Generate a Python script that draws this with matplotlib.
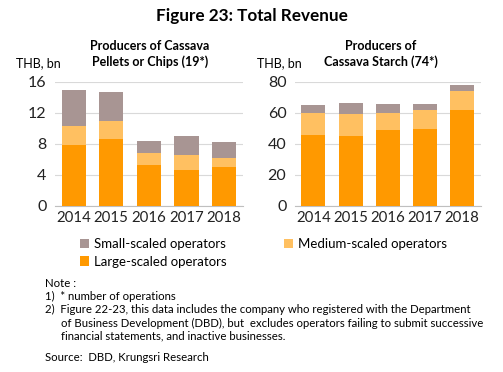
import matplotlib
matplotlib.use("Agg")
import matplotlib.pyplot as plt
import numpy as np

plt.rcParams['font.family'] = ['Lato', 'DejaVu Sans']

years = ['2014', '2015', '2016', '2017', '2018']

# Producers of Cassava Pellets or Chips (THB bn)
chips_large = [7.83, 8.65, 5.25, 4.60, 5.03]
chips_medium = [2.45, 2.32, 1.55, 1.94, 1.16]
chips_small = [4.64, 3.70, 1.54, 2.45, 2.03]

# Producers of Cassava Starch (THB bn)
starch_large = [45.6, 44.9, 48.8, 49.5, 61.7]
starch_medium = [14.2, 14.2, 11.0, 12.2, 12.3]
starch_small = [5.1, 7.4, 5.8, 3.9, 4.1]

c_large = '#FF9900'
c_medium = '#FFC061'
c_small = '#A89593'
grid_c = '#D9D9D9'


def draw(ax, large, medium, small, ymax, step):
    x = np.arange(len(years))
    large = np.array(large)
    medium = np.array(medium)
    small = np.array(small)
    ax.bar(x, large, 0.64, color=c_large, zorder=3, label='Large-scaled operators')
    ax.bar(x, medium, 0.64, bottom=large, color=c_medium, zorder=3, label='Medium-scaled operators')
    ax.bar(x, small, 0.64, bottom=large + medium, color=c_small, zorder=3, label='Small-scaled operators')
    ax.set_xlim(-0.5, len(years) - 0.5)
    ax.set_ylim(0, ymax)
    ax.set_yticks(np.arange(0, ymax + 1, step))
    ax.set_xticks(x)
    ax.set_xticklabels(years)
    ax.yaxis.grid(True, color=grid_c, linewidth=0.8, zorder=0)
    for s in ['top', 'right', 'left']:
        ax.spines[s].set_visible(False)
    ax.spines['bottom'].set_color('#BFBFBF')
    ax.tick_params(axis='y', length=0, labelsize=11.5, pad=6, colors='#222222')
    ax.tick_params(axis='x', length=0, labelsize=10.8, pad=4, colors='#222222')


fig = plt.figure(figsize=(5.03, 3.72), dpi=100)
ax1 = fig.add_axes([0.109, 0.447, 0.374, 0.333])
ax2 = fig.add_axes([0.586, 0.447, 0.370, 0.333])

draw(ax1, chips_large, chips_medium, chips_small, 16, 4)
draw(ax2, starch_large, starch_medium, starch_small, 80, 20)

fig.text(0.5, 0.958, 'Figure 23: Total Revenue', ha='center', va='center',
         fontsize=12.3, fontweight='bold')
fig.text(0.298, 0.855, 'Producers of Cassava\nPellets or Chips (19*)', ha='center', va='center',
         fontsize=9, fontweight='bold', linespacing=1.3)
fig.text(0.757, 0.855, 'Producers of\nCassava Starch (74*)', ha='center', va='center',
         fontsize=9, fontweight='bold', linespacing=1.3)
fig.text(0.032, 0.83, 'THB, bn', ha='left', va='center', fontsize=9)
fig.text(0.511, 0.83, 'THB, bn', ha='left', va='center', fontsize=9)

h, l = ax1.get_legend_handles_labels()
fig.legend([h[2], h[0], h[1]], [l[2], l[0], l[1]], ncol=2, loc='upper left',
           bbox_to_anchor=(0.148, 0.375), frameon=False, fontsize=9.5,
           handlelength=0.7, handleheight=0.7, handletextpad=0.4,
           columnspacing=4.3, labelspacing=0.45, borderaxespad=0)

note_fs = 8.2
fig.text(0.089, 0.239, 'Note :', fontsize=note_fs, va='center')
fig.text(0.089, 0.202, '1)  * number of operations', fontsize=note_fs, va='center')
fig.text(0.089, 0.167, '2)  Figure 22-23, this data includes the company who registered with the Department',
         fontsize=note_fs, va='center')
fig.text(0.121, 0.131, 'of Business Development (DBD), but  excludes operators failing to submit successive',
         fontsize=note_fs, va='center')
fig.text(0.121, 0.096, 'financial statements, and inactive businesses.', fontsize=note_fs, va='center')
fig.text(0.089, 0.040, 'Source:  DBD, Krungsri Research', fontsize=note_fs, va='center')

fig.savefig('out.png', dpi=100)
